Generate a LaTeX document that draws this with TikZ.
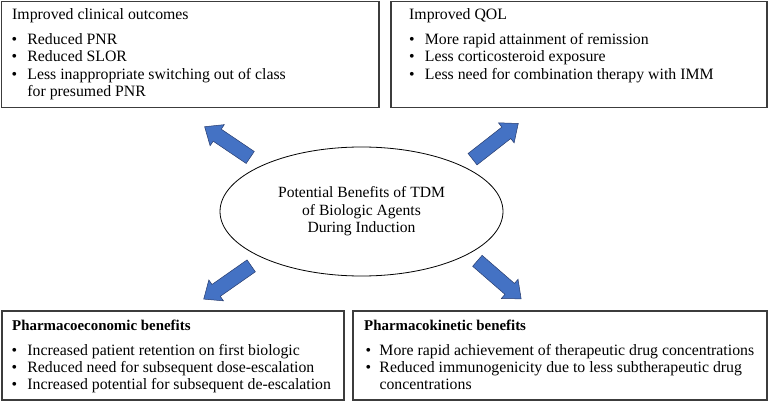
\documentclass[tikz,border=0pt]{standalone}
\usepackage{fontspec}
\setmainfont{Liberation Serif}
\usetikzlibrary{shapes.geometric,shapes.arrows}
\definecolor{arrowblue}{RGB}{68,114,196}
\definecolor{arrowedge}{RGB}{40,60,110}
\definecolor{boxedge}{RGB}{60,60,60}
\newcommand\blt[1][15.7pt]{\makebox[#1][l]{\textbullet}}
\begin{document}
\begin{tikzpicture}[x=1pt,y=-1pt,
  panel/.style={draw=boxedge, line width=1.1pt, rectangle, anchor=north west, inner sep=0pt, outer sep=0pt},
  txt/.style={anchor=base west, inner sep=0pt, font=\fontsize{15.8}{17.5}\selectfont},
  ttl/.style={anchor=base west, inner sep=0pt, font=\fontsize{14.9}{17.5}\selectfont\bfseries},
  blockarrow/.style={single arrow, draw=arrowedge, fill=arrowblue, line width=0.5pt,
     minimum width=25pt, inner sep=7pt, single arrow head extend=5.5pt,
     single arrow tip angle=80, anchor=center}
]
\useasboundingbox (0,0) rectangle (768,401);
% boxes
\node[panel, minimum width=377.5pt, minimum height=106pt] (tl) at (1.5,1.2) {};
\node[panel, minimum width=376pt, minimum height=106pt] (tr) at (391,1.2) {};
\node[panel, minimum width=342pt, minimum height=89pt] (bl) at (2,311) {};
\node[panel, minimum width=414pt, minimum height=89pt] (br) at (353,311) {};
% top-left texts
\node[txt] (tlT) at (12,19.3) {Improved clinical outcomes};
\node[txt] (tl1) at (11.5,44.3) {\blt Reduced PNR};
\node[txt] (tl2) at (11.5,62) {\blt Reduced SLOR};
\node[txt] (tl3) at (11.5,79.5) {\blt Less inappropriate switching out of class};
\node[txt] (tl4) at (11.5,97) {\hspace*{15.7pt}for presumed PNR};
% top-right texts
\node[txt] (trT) at (409,19.3) {Improved QOL};
\node[txt] (tr1) at (409,44.3) {\blt More rapid attainment of remission};
\node[txt] (tr2) at (409,62) {\blt Less corticosteroid exposure};
\node[txt] (tr3) at (409,79.5) {\blt Less need for combination therapy with IMM};
% bottom-left texts
\node[ttl] (blT) at (12,330) {Pharmacoeconomic benefits};
\node[txt] (bl1) at (11.5,355) {\blt Increased patient retention on first biologic};
\node[txt] (bl2) at (11.5,372) {\blt Reduced need for subsequent dose-escalation};
\node[txt] (bl3) at (11.5,389.3) {\blt Increased potential for subsequent de-escalation};
% bottom-right texts
\node[ttl] (brT) at (364,330) {Pharmacokinetic benefits};
\node[txt] (br1) at (365.5,355) {\blt[13.8pt]More rapid achievement of therapeutic drug concentrations};
\node[txt] (br2) at (365.5,372) {\blt[13.8pt]Reduced immunogenicity due to less subtherapeutic drug};
\node[txt] (br3) at (365.5,389.3) {\hspace*{13.8pt}concentrations};
% central ellipse
\node[ellipse, draw=black, line width=0.8pt, minimum width=283pt, minimum height=129pt,
      align=center, inner sep=0pt, font=\fontsize{15.6}{17.5}\selectfont] (core) at (361.5,211.5)
      {Potential Benefits of TDM\\of Biologic Agents\\During Induction};
% block arrows
\node[blockarrow, minimum height=55pt, rotate=146] (aTL) at (231,144.5) {};
\node[blockarrow, minimum height=58pt, rotate=38] (aTR) at (492,144) {};
\node[blockarrow, minimum height=58pt, rotate=215] (aBL) at (231,280) {};
\node[blockarrow, minimum height=58pt, rotate=-41] (aBR) at (496,277) {};
\end{tikzpicture}
\end{document}
